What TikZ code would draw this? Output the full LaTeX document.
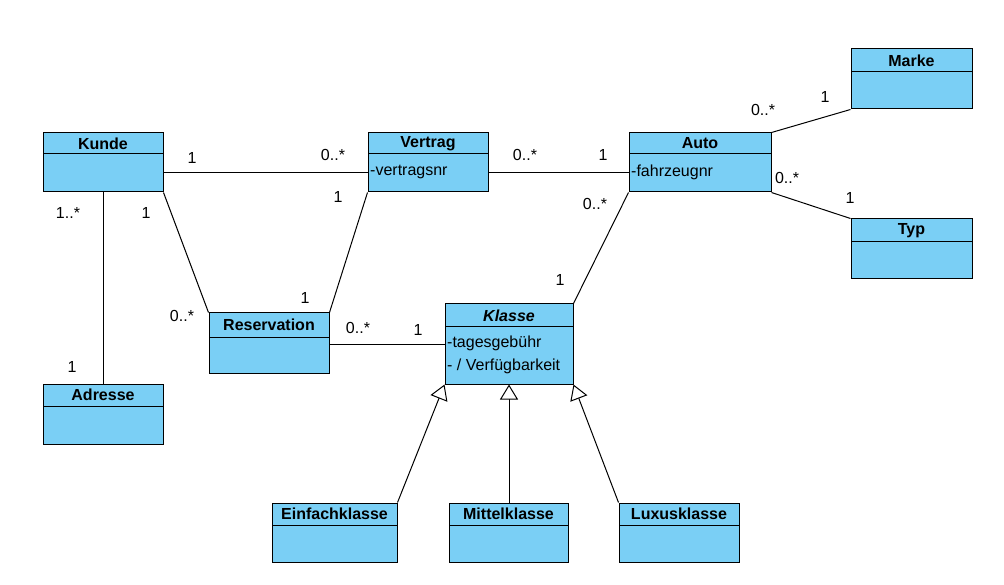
\documentclass[tikz,border=0pt]{standalone}
\usepackage{fontspec}
\setmainfont{Liberation Sans}
\usetikzlibrary{arrows.meta,fit}
\definecolor{classfill}{RGB}{122,207,245}
\tikzset{
  classbox/.style={draw=black, fill=classfill, line width=1pt, inner sep=0pt},
  classtitle/.style={font=\fontsize{16}{18}\selectfont\bfseries, inner sep=0pt},
  attr/.style={font=\fontsize{16}{18}\selectfont, inner sep=0pt, anchor=west},
  mult/.style={font=\fontsize{16}{18}\selectfont, inner sep=0pt},
  assoc/.style={line width=1pt},
  gen/.style={line width=1pt, -{Triangle[open, length=15pt, width=18pt, fill=white]}},
}
% class box: name, left, top, right, bottom, divider y, title
\newcommand{\umlclass}[7]{%
  \node[classbox, fit={(#2,#3) (#4,#5)}] (#1) {};
  \draw[line width=1pt] (#2,#6) -- (#4,#6);
  \node[classtitle] (#1-title) at ({(#2+#4)/2},{(#3+#6)/2}) {#7};
  \coordinate (#1-body) at ({(#2+#4)/2},{(#6+#5)/2});
}
\begin{document}
\begin{tikzpicture}[x=1pt, y=-1pt]
\useasboundingbox (0,0) rectangle (1004,585);

% classes
\umlclass{kunde}{43}{133}{163}{192}{154}{Kunde}
\umlclass{vertrag}{368}{133}{488}{192}{154}{Vertrag}
\umlclass{auto}{629}{133}{771}{192}{154}{Auto}
\umlclass{marke}{851}{49}{972}{109}{72}{Marke}
\umlclass{typ}{851}{219}{972}{279}{242}{Typ}
\umlclass{reservation}{209}{313}{329}{373}{337}{Reservation}
\umlclass{klasse}{445}{304}{573}{384}{327}{\itshape Klasse}
\umlclass{adresse}{43}{384}{163}{444}{406}{Adresse}
\umlclass{einfach}{272}{503}{397}{562}{525}{Einfachklasse}
\umlclass{mittel}{449}{503}{568}{562}{525}{Mittelklasse}
\umlclass{luxus}{619}{503}{739}{562}{525}{Luxusklasse}

% attributes
\node[attr] (vertrag-a1) at (370,172) {-vertragsnr};
\node[attr] (auto-a1) at (631,172) {-fahrzeugnr};
\node[attr] (klasse-a1) at (447,343) {-tagesgebühr};
\node[attr] (klasse-a2) at (447,366) {- / Verfügbarkeit};

% associations
\draw[assoc] (kunde-body -| kunde.east) -- (vertrag-body -| vertrag.west);
\draw[assoc] (vertrag-body -| vertrag.east) -- (auto-body -| auto.west);
\draw[assoc] (kunde.south) -- (adresse.north);
\draw[assoc] (kunde.south east) -- (reservation.north west);
\draw[assoc] (vertrag.south west) -- (reservation.north east);
\draw[assoc] (klasse.west -| reservation.east) -- (klasse.west);
\draw[assoc] (auto.south west) -- (klasse.north east);
\draw[assoc] (auto.north east) -- (marke.south west);
\draw[assoc] (auto.south east) -- (typ.north west);

% generalizations
\draw[gen] (einfach.north east) -- (klasse.south west);
\draw[gen] (mittel.north -| klasse.south) -- (klasse.south);
\draw[gen] (luxus.north west) -- (klasse.south east);

% multiplicities
\node[mult] (m1) at (192,158) {1};
\node[mult] (m2) at (333,155) {0..*};
\node[mult] (m3) at (525,155) {0..*};
\node[mult] (m4) at (603,155) {1};
\node[mult] (m5) at (68,213) {1..*};
\node[mult] (m6) at (72,367) {1};
\node[mult] (m7) at (146,213) {1};
\node[mult] (m8) at (182,316) {0..*};
\node[mult] (m9) at (338,197) {1};
\node[mult] (m10) at (305,298) {1};
\node[mult] (m11) at (358,328) {0..*};
\node[mult] (m12) at (418,330) {1};
\node[mult] (m13) at (595,204) {0..*};
\node[mult] (m14) at (560,280) {1};
\node[mult] (m15) at (763,110) {0..*};
\node[mult] (m16) at (825,97) {1};
\node[mult] (m17) at (787,178) {0..*};
\node[mult] (m18) at (850,198) {1};
\end{tikzpicture}
\end{document}
